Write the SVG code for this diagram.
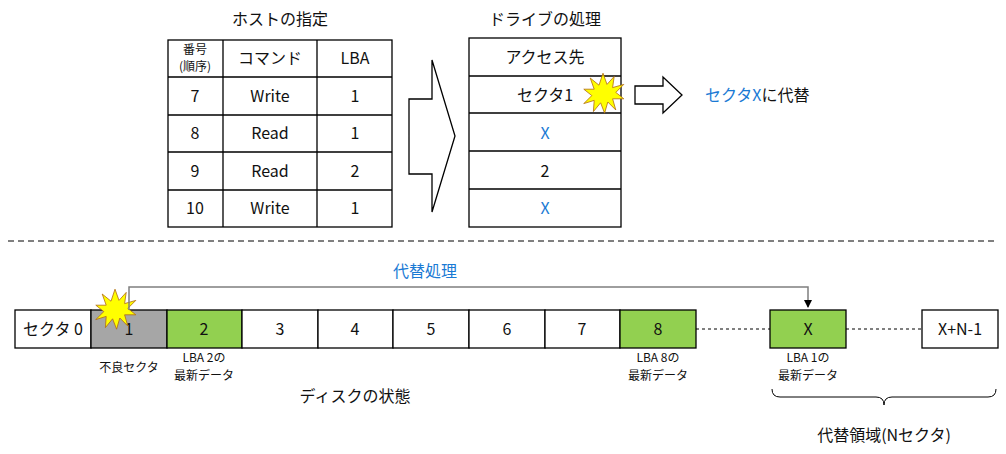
<svg xmlns="http://www.w3.org/2000/svg" width="1006" height="454" viewBox="0 0 1006 454">
<style>
text{font-family:"Noto Sans CJK JP","Noto Sans",sans-serif;fill:#111;text-anchor:middle}
.t{font-size:16px}.s{font-size:12px}.b{fill:#1a7ad4}
.c{fill:#fff;stroke:#000;stroke-width:1.3}
.star{fill:#ffff00;stroke:#b06a10;stroke-width:1}
</style>
<defs>
<marker id="ah" markerWidth="8" markerHeight="8" refX="7" refY="4" orient="auto" markerUnits="userSpaceOnUse"><path d="M0,0 L8,4 L0,8 z" fill="#000"/></marker>
<polygon id="burst" class="star" points="0,-26 5,-12 14,-22 12,-8 26,-12 16,-2 26,6 12,6 16,20 6,10 2,24 -3,11 -12,22 -11,8 -24,12 -14,2 -24,-6 -11,-6 -16,-20 -5,-11"/>
</defs>
<rect width="1006" height="454" fill="#fff"/>
<g id="host">
<text class="t" x="280" y="25">ホストの指定</text>
<rect class="c" x="168" y="40" width="224" height="187"/>
<path d="M223,40V227M317,40V227M168,77H392M168,115H392M168,152H392M168,190H392" stroke="#000" stroke-width="1.3"/>
<text class="s" x="195" y="54">番号</text><text class="s" x="195" y="71">(順序)</text>
<text class="t" x="270" y="64">コマンド</text><text class="t" x="355" y="64">LBA</text>
<text class="t" x="195" y="102">7</text><text class="t" x="270" y="102">Write</text><text class="t" x="355" y="102">1</text>
<text class="t" x="195" y="139">8</text><text class="t" x="270" y="139">Read</text><text class="t" x="355" y="139">1</text>
<text class="t" x="195" y="177">9</text><text class="t" x="270" y="177">Read</text><text class="t" x="355" y="177">2</text>
<text class="t" x="195" y="214">10</text><text class="t" x="270" y="214">Write</text><text class="t" x="355" y="214">1</text>
</g>
<g id="bigarrow"><polygon class="c" points="409,99 432,99 432,60 455,136 432,212 432,174 409,174" stroke-width="1"/></g>
<g id="drive">
<text class="t" x="545" y="25">ドライブの処理</text>
<rect class="c" x="469" y="38" width="152" height="189"/>
<path d="M469,76H621M469,113H621M469,151H621M469,189H621" stroke="#000" stroke-width="1.3"/>
<text class="t" x="545" y="63">アクセス先</text>
<text class="t" x="545" y="101">セクタ1</text>
<text class="t b" x="545" y="139">X</text>
<text class="t" x="545" y="177">2</text>
<text class="t b" x="545" y="214">X</text>
<use href="#burst" transform="translate(603,94) scale(0.8)"/>
</g>
<g id="smallarrow"><polygon class="c" points="635,86 663,86 663,77 682,95 663,113 663,104 635,104" stroke-width="1"/>
<text class="t" x="705" y="101" style="text-anchor:start"><tspan class="b">セクタX</tspan>に代替</text></g>
<line x1="8" y1="241" x2="998" y2="241" stroke="#000" stroke-dasharray="6,4"/>
<g id="disk">
<rect class="c" x="15" y="310" width="76" height="38"/>
<rect class="c" x="91" y="310" width="76" height="38" style="fill:#a6a6a6"/>
<rect class="c" x="167" y="310" width="75" height="38" style="fill:#92d050"/>
<rect class="c" x="242" y="310" width="76" height="38"/>
<rect class="c" x="318" y="310" width="75" height="38"/>
<rect class="c" x="393" y="310" width="76" height="38"/>
<rect class="c" x="469" y="310" width="76" height="38"/>
<rect class="c" x="545" y="310" width="75" height="38"/>
<rect class="c" x="620" y="310" width="76" height="38" style="fill:#92d050"/>
<rect class="c" x="770" y="310" width="76" height="38" style="fill:#92d050"/>
<rect class="c" x="922" y="310" width="76" height="38"/>
<path d="M696,329H770M846,329H922" stroke="#000" stroke-dasharray="3,3"/>
<text class="t" x="53" y="335">セクタ 0</text>
<text class="t" x="129" y="335">1</text><text class="t" x="204" y="335">2</text><text class="t" x="280" y="335">3</text>
<text class="t" x="355" y="335">4</text><text class="t" x="431" y="335">5</text><text class="t" x="507" y="335">6</text>
<text class="t" x="582" y="335">7</text><text class="t" x="658" y="335">8</text><text class="t" x="808" y="335">X</text>
<text class="t" x="960" y="335">X+N-1</text>
<text class="s" x="129" y="372">不良セクタ</text>
<text class="s" x="204" y="362">LBA 2の</text><text class="s" x="204" y="380">最新データ</text>
<text class="s" x="658" y="362">LBA 8の</text><text class="s" x="658" y="380">最新データ</text>
<text class="s" x="808" y="362">LBA 1の</text><text class="s" x="808" y="380">最新データ</text>
<text class="t" x="355" y="402">ディスクの状態</text>
<path d="M772,389 q0,8 8,8 H876 q8,0 8,8 q0,-8 8,-8 H988 q8,0 8,-8" fill="none" stroke="#000"/>
<text class="t" x="884" y="441">代替領域(Nセクタ)</text>
<use href="#burst" transform="translate(115,310) scale(0.8)"/>
</g>
<g id="connectors">
<path d="M129,310V287H808V307" fill="none" stroke="#7f7f7f" stroke-width="1.5" marker-end="url(#ah)"/>
<text class="t b" x="425" y="277">代替処理</text>
</g>
</svg>
